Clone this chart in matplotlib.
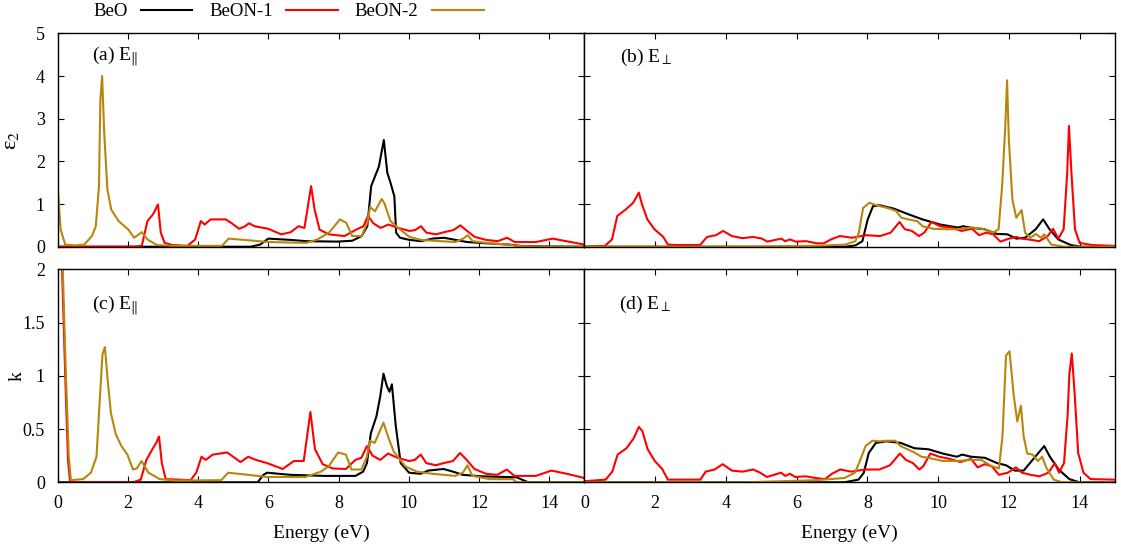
import matplotlib
matplotlib.use("Agg")
import matplotlib.pyplot as plt
from matplotlib.ticker import FormatStrFormatter, MultipleLocator

plt.rcParams["font.family"] = ["Liberation Serif", "DejaVu Serif"]
plt.rcParams["mathtext.fontset"] = "stix"
plt.rcParams["font.size"] = 13.5

series_names = ["BeO", "BeON-1", "BeON-2"]
series_colors = ["black", "#ff0000", "#b8860b"]

# (energy eV, value)
# (a) eps2, E parallel
a_beo = [(0, 0), (5.5, 0), (5.77, 0.05), (6.0, 0.19), (6.64, 0.16), (7.08, 0.13), (7.95, 0.12),
         (8.39, 0.14), (8.66, 0.25), (8.82, 0.48), (8.93, 1.42), (9.04, 1.65), (9.15, 1.88),
         (9.29, 2.5), (9.39, 1.73), (9.48, 1.5), (9.59, 1.18), (9.64, 0.33), (9.75, 0.21),
         (10.02, 0.16), (10.35, 0.13), (10.68, 0.19), (11.0, 0.21), (11.27, 0.17), (11.66, 0.11),
         (12.2, 0.08), (12.85, 0.05), (13.29, 0.01), (15, 0)]
a_beon1 = [(0, 0), (2.18, 0), (2.4, 0.02), (2.56, 0.6), (2.72, 0.76), (2.86, 0.99), (2.94, 0.33),
           (3.05, 0.09), (3.27, 0.04), (3.7, 0.02), (3.92, 0.17), (4.08, 0.6), (4.19, 0.52),
           (4.36, 0.64), (4.79, 0.64), (4.96, 0.55), (5.17, 0.42), (5.34, 0.48), (5.45, 0.55),
           (5.61, 0.48), (6.0, 0.42), (6.37, 0.29), (6.64, 0.34), (6.86, 0.48), (7.03, 0.44),
           (7.22, 1.42), (7.32, 0.87), (7.46, 0.4), (7.73, 0.29), (8.17, 0.25), (8.5, 0.4),
           (8.71, 0.48), (8.84, 0.72), (8.99, 0.55), (9.2, 0.44), (9.42, 0.52), (9.7, 0.44),
           (10.02, 0.37), (10.18, 0.39), (10.35, 0.48), (10.5, 0.33), (10.78, 0.29), (11.0, 0.34),
           (11.27, 0.39), (11.47, 0.5), (11.66, 0.37), (11.88, 0.23), (12.2, 0.16), (12.53, 0.13),
           (12.8, 0.21), (13.02, 0.11), (13.62, 0.11), (14.1, 0.19), (14.48, 0.13), (15, 0.05)]
a_beon2 = [(0, 1.46), (0.09, 0.4), (0.22, 0.05), (0.5, 0.03), (0.76, 0.05), (0.98, 0.25),
           (1.09, 0.48), (1.18, 1.42), (1.22, 3.44), (1.27, 4.0), (1.33, 2.66), (1.42, 1.34),
           (1.53, 0.87), (1.74, 0.6), (2.02, 0.4), (2.18, 0.21), (2.4, 0.34), (2.56, 0.17),
           (2.83, 0.04), (3.27, 0.02), (4.68, 0.02), (4.87, 0.19), (5.45, 0.15), (6.0, 0.11),
           (7.08, 0.09), (7.4, 0.17), (7.73, 0.33), (8.04, 0.64), (8.22, 0.56), (8.39, 0.25),
           (8.66, 0.25), (8.82, 0.56), (8.9, 0.93), (9.04, 0.83), (9.23, 1.12), (9.31, 1.01),
           (9.48, 0.6), (9.7, 0.44), (10.02, 0.23), (10.35, 0.16), (10.9, 0.13), (11.33, 0.11),
           (11.55, 0.19), (11.68, 0.27), (11.82, 0.13), (12.3, 0.08), (12.85, 0.05), (13.07, 0.02),
           (13.5, 0), (15, 0)]

# (b) eps2, E perpendicular
b_beo = [(0, 0), (7.37, 0), (7.66, 0.03), (7.86, 0.13), (8.01, 0.64), (8.16, 0.95), (8.36, 0.97),
         (8.76, 0.89), (9.16, 0.76), (9.56, 0.64), (10.06, 0.52), (10.56, 0.45), (10.71, 0.48),
         (10.96, 0.44), (11.31, 0.41), (11.66, 0.3), (11.96, 0.29), (12.21, 0.19), (12.46, 0.21),
         (12.76, 0.41), (12.97, 0.64), (13.15, 0.41), (13.4, 0.17), (13.75, 0.04), (14.05, 0),
         (15, 0)]
b_beon1 = [(0, 0), (0.58, 0.02), (0.78, 0.17), (0.93, 0.72), (1.18, 0.88), (1.38, 1.03),
           (1.54, 1.27), (1.63, 0.99), (1.78, 0.64), (1.98, 0.41), (2.23, 0.23), (2.36, 0.05),
           (2.57, 0.04), (3.27, 0.04), (3.47, 0.23), (3.72, 0.27), (3.92, 0.37), (4.17, 0.25),
           (4.47, 0.2), (4.77, 0.23), (5.02, 0.19), (5.17, 0.12), (5.57, 0.19), (5.67, 0.13),
           (5.82, 0.17), (5.97, 0.12), (6.27, 0.13), (6.57, 0.08), (6.77, 0.08), (6.97, 0.17),
           (7.22, 0.25), (7.57, 0.21), (7.96, 0.27), (8.36, 0.25), (8.66, 0.33), (8.91, 0.58),
           (9.06, 0.41), (9.26, 0.37), (9.46, 0.25), (9.61, 0.33), (9.81, 0.58), (10.06, 0.48),
           (10.36, 0.45), (10.66, 0.37), (10.96, 0.42), (11.16, 0.27), (11.36, 0.33), (11.56, 0.29),
           (11.76, 0.12), (12.01, 0.19), (12.21, 0.23), (12.36, 0.19), (12.56, 0.17), (12.86, 0.13),
           (13.1, 0.25), (13.25, 0.42), (13.4, 0.19), (13.55, 0.41), (13.65, 1.73), (13.7, 2.83),
           (13.77, 1.73), (13.87, 0.41), (14.0, 0.09), (14.35, 0.04), (15, 0.02)]
b_beon2 = [(0, 0), (4.57, 0), (6.57, 0.02), (7.37, 0.05), (7.66, 0.13), (7.76, 0.33), (7.88, 0.91),
           (8.06, 1.03), (8.26, 0.97), (8.56, 0.91), (8.81, 0.84), (8.96, 0.68), (9.16, 0.64),
           (9.41, 0.6), (9.56, 0.48), (9.86, 0.42), (10.26, 0.41), (10.56, 0.41), (10.96, 0.45),
           (11.26, 0.42), (11.56, 0.33), (11.71, 0.41), (11.81, 1.42), (11.9, 2.83), (11.95, 3.9),
           (12.0, 2.52), (12.1, 1.11), (12.21, 0.68), (12.36, 0.86), (12.46, 0.33), (12.61, 0.21),
           (12.76, 0.3), (12.91, 0.21), (13.0, 0.29), (13.2, 0.05), (13.55, 0), (15, 0)]

# (c) k, E parallel
c_beo = [(0, 0), (5.7, 0), (5.86, 0.07), (5.97, 0.09), (6.63, 0.07), (7.61, 0.06), (8.48, 0.06),
         (8.7, 0.1), (8.81, 0.18), (8.92, 0.46), (9.08, 0.62), (9.19, 0.81), (9.28, 1.02),
         (9.38, 0.9), (9.45, 0.85), (9.52, 0.92), (9.63, 0.53), (9.77, 0.18), (10.01, 0.09),
         (10.34, 0.08), (10.55, 0.11), (10.99, 0.125), (11.26, 0.1), (11.54, 0.07), (12.08, 0.056),
         (13.07, 0.047), (13.4, 0), (15, 0)]
c_beon1 = [(0, 3.5), (0.13, 2.0), (0.22, 1.0), (0.3, 0.2), (0.36, 0), (2.15, 0), (2.37, 0.025),
           (2.53, 0.21), (2.7, 0.31), (2.81, 0.37), (2.89, 0.43), (2.97, 0.18), (3.08, 0.03),
           (3.79, 0.02), (3.95, 0.09), (4.1, 0.24), (4.22, 0.21), (4.42, 0.26), (4.83, 0.28),
           (5.0, 0.24), (5.21, 0.19), (5.43, 0.24), (5.65, 0.21), (5.97, 0.18), (6.41, 0.125),
           (6.73, 0.2), (7.01, 0.2), (7.2, 0.66), (7.33, 0.31), (7.55, 0.17), (7.83, 0.13),
           (8.21, 0.125), (8.48, 0.21), (8.65, 0.23), (8.81, 0.34), (8.97, 0.25), (9.19, 0.21),
           (9.41, 0.27), (9.68, 0.23), (10.01, 0.2), (10.17, 0.21), (10.34, 0.26), (10.5, 0.18),
           (10.77, 0.16), (10.99, 0.18), (11.26, 0.2), (11.46, 0.275), (11.65, 0.21), (11.87, 0.125),
           (12.2, 0.08), (12.52, 0.07), (12.79, 0.12), (13.01, 0.06), (13.62, 0.06), (14.06, 0.11),
           (14.5, 0.08), (15, 0.04)]
c_beon2 = [(0, 3.2), (0.15, 2.0), (0.24, 1.0), (0.32, 0.25), (0.38, 0.02), (0.73, 0.03),
           (0.95, 0.09), (1.11, 0.24), (1.22, 0.87), (1.28, 1.2), (1.35, 1.27), (1.42, 0.99),
           (1.52, 0.65), (1.66, 0.45), (1.82, 0.34), (1.99, 0.26), (2.15, 0.12), (2.26, 0.13),
           (2.39, 0.2), (2.59, 0.09), (2.91, 0.03), (3.35, 0.016), (4.66, 0.02), (4.86, 0.09),
           (5.43, 0.07), (5.97, 0.05), (7.06, 0.05), (7.5, 0.1), (7.72, 0.15), (7.99, 0.28),
           (8.21, 0.26), (8.37, 0.12), (8.65, 0.12), (8.81, 0.24), (8.89, 0.39), (9.03, 0.37),
           (9.28, 0.56), (9.41, 0.43), (9.57, 0.29), (9.9, 0.15), (10.23, 0.1), (10.67, 0.08),
           (11.32, 0.06), (11.54, 0.09), (11.67, 0.16), (11.81, 0.06), (12.3, 0.03), (12.96, 0.03),
           (13.07, 0), (15, 0)]

# (d) k, E perpendicular
d_beo = [(0, 0), (7.35, 0), (7.75, 0.025), (7.9, 0.09), (8.04, 0.275), (8.24, 0.37), (8.54, 0.385),
         (8.94, 0.37), (9.33, 0.32), (9.73, 0.31), (10.13, 0.27), (10.53, 0.24), (10.68, 0.26),
         (10.93, 0.24), (11.32, 0.23), (11.67, 0.18), (11.92, 0.16), (12.17, 0.11), (12.42, 0.11),
         (12.72, 0.23), (13.0, 0.34), (13.16, 0.24), (13.41, 0.12), (13.71, 0.03), (14.0, 0),
         (15, 0)]
d_beon1 = [(0, 0.01), (0.6, 0.025), (0.79, 0.1), (0.94, 0.26), (1.19, 0.32), (1.39, 0.41),
           (1.54, 0.52), (1.64, 0.48), (1.79, 0.31), (1.99, 0.2), (2.2, 0.125), (2.36, 0.025),
           (3.28, 0.025), (3.43, 0.1), (3.68, 0.12), (3.91, 0.17), (4.17, 0.11), (4.47, 0.1),
           (4.77, 0.12), (4.97, 0.09), (5.16, 0.05), (5.56, 0.09), (5.68, 0.06), (5.81, 0.08),
           (5.96, 0.05), (6.26, 0.056), (6.55, 0.04), (6.8, 0.03), (7.0, 0.08), (7.23, 0.12),
           (7.55, 0.1), (7.94, 0.12), (8.34, 0.12), (8.64, 0.16), (8.92, 0.27), (9.09, 0.21),
           (9.29, 0.18), (9.47, 0.12), (9.58, 0.15), (9.78, 0.27), (10.03, 0.24), (10.33, 0.22),
           (10.63, 0.19), (10.93, 0.22), (11.12, 0.14), (11.32, 0.17), (11.52, 0.15), (11.72, 0.07),
           (11.97, 0.09), (12.2, 0.14), (12.37, 0.09), (12.62, 0.07), (12.87, 0.056), (13.12, 0.09),
           (13.3, 0.18), (13.42, 0.09), (13.56, 0.18), (13.66, 0.62), (13.71, 1.01), (13.78, 1.21),
           (13.86, 0.84), (13.96, 0.275), (14.11, 0.09), (14.31, 0.03), (15, 0.025)]
d_beon2 = [(0, 0), (4.57, 0), (6.55, 0.02), (7.35, 0.04), (7.65, 0.09), (7.8, 0.21), (7.95, 0.34),
           (8.14, 0.39), (8.34, 0.385), (8.54, 0.39), (8.79, 0.39), (8.94, 0.34), (9.33, 0.28),
           (9.53, 0.24), (9.73, 0.23), (10.13, 0.2), (10.53, 0.2), (10.93, 0.21), (11.22, 0.21),
           (11.52, 0.15), (11.72, 0.13), (11.82, 0.43), (11.92, 1.19), (12.02, 1.23), (12.14, 0.81),
           (12.24, 0.57), (12.34, 0.72), (12.42, 0.43), (12.52, 0.27), (12.67, 0.26), (12.82, 0.2),
           (12.94, 0.24), (13.07, 0.13), (13.27, 0.025), (13.5, 0), (15, 0)]

panel_labels = [r"(a) E$_{\Vert}$", r"(b) E$_{\perp}$", r"(c) E$_{\Vert}$", r"(d) E$_{\perp}$"]
panel_data = [[a_beo, a_beon1, a_beon2], [b_beo, b_beon1, b_beon2],
              [c_beo, c_beon1, c_beon2], [d_beo, d_beon1, d_beon2]]

fig = plt.figure(figsize=(11.21, 5.49), dpi=100)
ax_a = fig.add_axes([0.0513, 0.5506, 0.4700, 0.3887])
ax_b = fig.add_axes([0.5213, 0.5506, 0.4733, 0.3887])
ax_c = fig.add_axes([0.0513, 0.1215, 0.4700, 0.3880])
ax_d = fig.add_axes([0.5213, 0.1215, 0.4733, 0.3880])
axes = [ax_a, ax_b, ax_c, ax_d]

label_y = [0.873, 0.865, 0.812, 0.815]
label_x = [0.065, 0.068, 0.066, 0.065]

for i, ax in enumerate(axes):
    for data, name, col in zip(panel_data[i], series_names, series_colors):
        e, v = zip(*data)
        ax.plot(e, v, color=col, lw=1.5, label=name)
    ax.set_xlim(0, 15)
    ax.xaxis.set_major_locator(MultipleLocator(2))
    ax.tick_params(direction="in", top=True, right=True, length=4, width=0.8, pad=9,
                   labelsize=13)
    for sp in ax.spines.values():
        sp.set_linewidth(1.0)
    ax.text(label_x[i], label_y[i], panel_labels[i], transform=ax.transAxes,
            ha="left", va="baseline", fontsize=14)

for ax in [ax_a, ax_b]:
    ax.set_ylim(0, 5)
    ax.yaxis.set_major_locator(MultipleLocator(1))
    ax.tick_params(labelbottom=False)
for ax in [ax_c, ax_d]:
    ax.set_ylim(0, 2)
    ax.yaxis.set_major_locator(MultipleLocator(0.5))
    ax.yaxis.set_major_formatter(FormatStrFormatter("%g"))
    ax.set_xlabel("Energy (eV)", fontsize=14)
    ax.xaxis.set_label_coords(0.5, -0.2)
for ax in [ax_b, ax_d]:
    ax.tick_params(labelleft=False)

# upright epsilon like the original
ax_a.set_ylabel("\u03b5$_2$", fontsize=16)
ax_a.yaxis.set_label_coords(-0.07, 0.5)
ax_c.set_ylabel("k", fontsize=14)
ax_c.yaxis.set_label_coords(-0.061, 0.5)

handles, labels = ax_a.get_legend_handles_labels()
fig.legend(handles, labels, loc="center left", bbox_to_anchor=(0.083, 0.979), ncol=3,
           frameon=False, markerfirst=False, borderpad=0, borderaxespad=0,
           handlelength=2.77, handletextpad=0.7, columnspacing=0.9, fontsize=13.5)

fig.savefig("out.png", dpi=100)
